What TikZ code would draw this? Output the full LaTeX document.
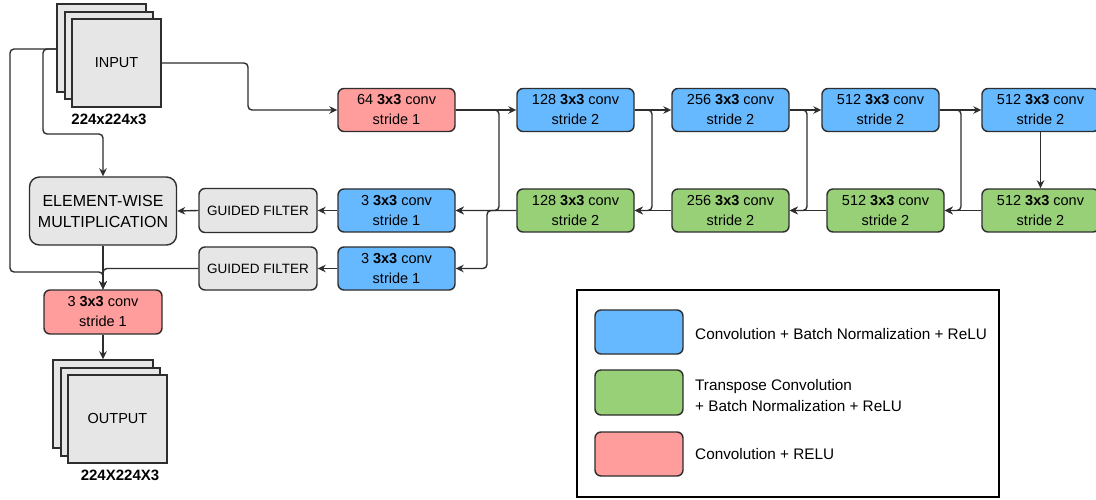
\documentclass[tikz,border=0pt]{standalone}
\usepackage{fontspec}
\setmainfont{Liberation Sans}
\usetikzlibrary{arrows.meta}
\definecolor{cblue}{HTML}{66B8FF}
\definecolor{cgreen}{HTML}{97D077}
\definecolor{cred}{HTML}{FF9C9C}
\definecolor{cgray}{HTML}{E6E6E6}
\definecolor{cline}{HTML}{2E2E2E}
\tikzset{
  box/.style={draw=cline, line width=1.4pt, rounded corners=6pt, minimum width=117pt, minimum height=43pt, align=center, inner sep=0pt, font=\fontsize{14.5}{20}\selectfont},
  bluebox/.style={box, fill=cblue},
  greenbox/.style={box, fill=cgreen},
  redbox/.style={box, fill=cred},
  graybox/.style={box, fill=cgray, font=\fontsize{13.5}{17}\selectfont},
  sheet/.style={draw=cline, line width=1.4pt, fill=cgray, inner sep=0pt, font=\fontsize{14.5}{17}\selectfont},
  conn/.style={draw=cline, line width=1.4pt, rounded corners=4pt, -{Stealth[length=8pt,width=7.5pt]}},
  lbl/.style={font=\fontsize{15}{17}\selectfont\bfseries, inner sep=0pt},
  legtxt/.style={anchor=west, align=left, inner sep=0pt, font=\fontsize{15.3}{21}\selectfont},
}
\begin{document}
\begin{tikzpicture}[x=1pt,y=-1pt]
\useasboundingbox[fill=white] (0,0) rectangle (1096,500);
% input stack
\node[sheet, minimum width=89pt, minimum height=88pt] (in3) at (101.5,48) {};
\node[sheet, minimum width=88pt, minimum height=87pt] (in2) at (109,55.5) {};
\node[sheet, minimum width=89pt, minimum height=88pt] (in) at (116.5,63) {INPUT};
\node[lbl] (inlbl) at (109,119) {224x224x3};
\coordinate (split) at (57,49);
% top row
\node[redbox] (c64) at (396.5,110) {64 \textbf{3x3} conv\\stride 1};
\node[bluebox] (b128) at (575.5,110) {128 \textbf{3x3} conv\\stride 2};
\node[bluebox] (b256) at (730.5,110) {256 \textbf{3x3} conv\\stride 2};
\node[bluebox] (b512a) at (880.5,110) {512 \textbf{3x3} conv\\stride 2};
\node[bluebox] (b512b) at (1040.5,110) {512 \textbf{3x3} conv\\stride 2};
% bottom row
\node[greenbox] (g128) at (575.5,210.5) {128 \textbf{3x3} conv\\stride 2};
\node[greenbox] (g256) at (730.5,210.5) {256 \textbf{3x3} conv\\stride 2};
\node[greenbox] (g512a) at (885.5,210.5) {512 \textbf{3x3} conv\\stride 2};
\node[greenbox] (g512b) at (1040.5,210.5) {512 \textbf{3x3} conv\\stride 2};
\node[bluebox] (c3a) at (396.5,210.5) {3 \textbf{3x3} conv\\stride 1};
\node[bluebox] (c3b) at (396.5,268.5) {3 \textbf{3x3} conv\\stride 1};
\node[graybox, minimum width=118pt, minimum height=44pt] (gfa) at (258,210.5) {GUIDED FILTER};
\node[graybox, minimum width=118pt, minimum height=43pt] (gfb) at (258,268.5) {GUIDED FILTER};
\node[graybox, minimum width=147pt, minimum height=68pt, rounded corners=10pt, font=\fontsize{16}{21}\selectfont] (ewm) at (103,211) {ELEMENT-WISE\\MULTIPLICATION};
\node[redbox, minimum width=118pt, minimum height=44pt] (c3r) at (103,312) {3 \textbf{3x3} conv\\stride 1};
% output stack
\node[sheet, minimum width=100pt, minimum height=88pt] (out3) at (103,404) {};
\node[sheet, minimum width=99pt, minimum height=88pt] (out2) at (110.5,412) {};
\node[sheet, minimum width=99pt, minimum height=88pt] (out) at (117.5,419) {OUTPUT};
\node[lbl] (outlbl) at (120,475) {224X224X3};
% connectors
\draw[conn] (in.east) -- (248,63) -- (248,110) -- (c64.west);
\draw[conn] (c64.east) -- (b128.west);
\draw[conn] (c64.east) -- (499,110) -- (499,210.5) -- (c3a.east);
\draw[conn] (g128.west) -- (c3a.east);
\draw[conn] (g128.west) -- (487,210.5) -- (487,268.5) -- (c3b.east);
\draw[conn] (b128.east) -- (b256.west);
\draw[conn] (b128.east) -- (652,110) -- (652,210.5) -- (g128.east);
\draw[conn] (g256.west) -- (g128.east);
\draw[conn] (b256.east) -- (b512a.west);
\draw[conn] (b256.east) -- (807,110) -- (807,210.5) -- (g256.east);
\draw[conn] (g512a.west) -- (g256.east);
\draw[conn] (b512a.east) -- (b512b.west);
\draw[conn] (b512a.east) -- (961,110) -- (961,210.5) -- (g512a.east);
\draw[conn] (g512b.west) -- (g512a.east);
\draw[conn] (b512b.south) -- (g512b.north);
\draw[conn] (c3a.west) -- (gfa.east);
\draw[conn] (c3b.west) -- (gfb.east);
\draw[conn] (gfa.west) -- (ewm.east);
\draw[conn] (split) -- (43,49) -- (43,134) -- (103,134) -- (ewm.north);
\draw[conn] (split) -- (10,49) -- (10,272) -- (103,272) -- (c3r.north);
\draw[conn] (gfb.west) -- (103,268.5) -- (c3r.north);
\draw[conn] (ewm.south) -- (c3r.north);
\draw[conn] (c3r.south) -- (out3.north);
% legend
\node[draw=black, line width=1.8pt, minimum width=422pt, minimum height=207pt, inner sep=0pt] (legend) at (788,393.5) {};
\node[bluebox, minimum width=88pt, minimum height=44pt] (lb) at (639,332) {};
\node[greenbox, minimum width=88pt, minimum height=45pt] (lg) at (639,392.5) {};
\node[redbox, minimum width=88pt, minimum height=44pt] (lr) at (639,454) {};
\node[legtxt] (lbt) at (695,334) {Convolution + Batch Normalization + ReLU};
\node[legtxt] (lgt) at (695,395.5) {Transpose Convolution\\+ Batch Normalization + ReLU};
\node[legtxt] (lrt) at (695,454) {Convolution + RELU};
\end{tikzpicture}
\end{document}
